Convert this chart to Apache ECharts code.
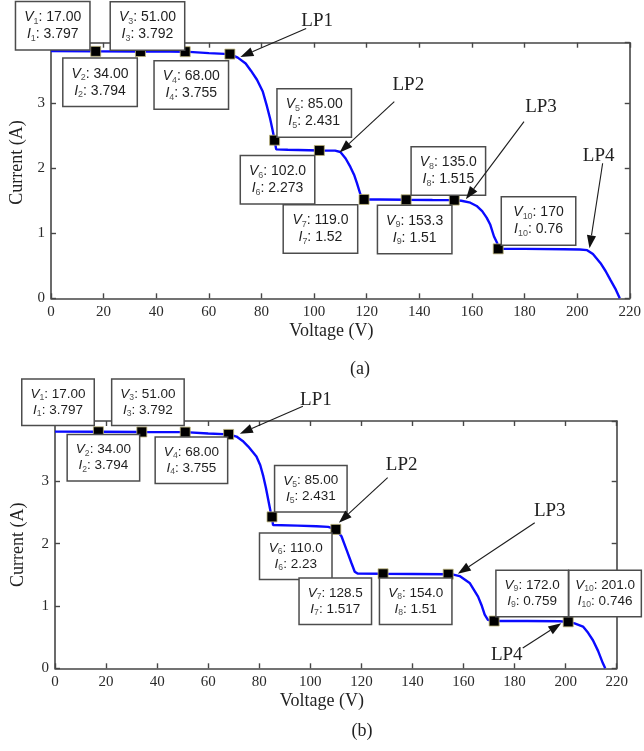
<!DOCTYPE html>
<html>
<head>
<meta charset="utf-8">
<script src="https://cdn.jsdelivr.net/npm/echarts@6/dist/echarts.min.js"></script>
<style>
  html, body { margin: 0; padding: 0; background: #fff; }
  #chart { width: 644px; height: 751px; }
</style>
</head>
<body>
<div id="chart"></div>
<script>
// ---- Panel (a): traced I–V curve of the PV string ----
const voltsA = [0, 17, 34, 45, 51, 60, 68, 71, 74, 76, 78.3, 80.5, 82.1, 83.3, 84.2,
  85, 85.6, 90, 102, 108, 110, 112, 113.8, 115.2, 116.3, 117.6, 119, 125, 135, 145,
  153.3, 156, 159.4, 161.8, 163.9, 165.6, 167, 168.4, 169.6, 170, 180, 195, 201, 203.8,
  206, 208.9, 210.8, 212.7, 214.5, 216.2];
const ampsA = [3.800, 3.797, 3.794, 3.794, 3.792, 3.770, 3.755, 3.70, 3.61, 3.50, 3.36, 3.18, 2.95, 2.76, 2.59,
  2.431, 2.290, 2.285, 2.273, 2.270, 2.250, 2.150, 2.020, 1.900, 1.770, 1.600, 1.520, 1.520, 1.515, 1.512,
  1.510, 1.500, 1.470, 1.420, 1.340, 1.240, 1.130, 0.950, 0.850, 0.760, 0.760, 0.755, 0.750, 0.740,
  0.680, 0.540, 0.420, 0.280, 0.150, 0.000];

// Data-tip readouts, panel (a)
const tipVA = ['17.00', '34.00', '51.00', '68.00', '85.00', '102.0', '119.0', '135.0', '153.3', '170'];
const tipIA = ['3.797', '3.794', '3.792', '3.755', '2.431', '2.273', '1.52', '1.515', '1.51', '0.76'];

// ---- Panel (b) ----
const voltsB = [0, 17, 34, 51, 60, 68, 71.1, 73.5, 75.7, 78.9, 80.4, 81.6, 82.6, 83.5, 84.4,
  85, 85.4, 95, 102.4, 107, 110, 112.2, 114.2, 116.1, 117.4, 118.5, 128.5, 140, 154, 156,
  158.5, 162.4, 165.7, 167.2, 168.3, 169.5, 172, 185, 197.6, 201, 203.5, 206.8, 208.8,
  210.7, 212.7, 214.6, 215.5];
const ampsB = [3.800, 3.797, 3.794, 3.792, 3.770, 3.755, 3.72, 3.65, 3.56, 3.40, 3.26, 3.08, 2.90, 2.71, 2.52,
  2.431, 2.300, 2.290, 2.280, 2.270, 2.230, 2.120, 1.900, 1.690, 1.550, 1.520, 1.517, 1.515, 1.510, 1.505,
  1.480, 1.370, 1.150, 1.000, 0.860, 0.780, 0.759, 0.760, 0.755, 0.746, 0.720, 0.670, 0.570,
  0.450, 0.280, 0.080, 0.000];

const tipVB = ['17.00', '34.00', '51.00', '68.00', '85.00', '110.0', '128.5', '154.0', '172.0', '201.0'];
const tipIB = ['3.797', '3.794', '3.792', '3.755', '2.431', '2.23', '1.517', '1.51', '0.759', '0.746'];

// Local peaks called out with arrows: tip and tail in (V, A)
const lpNames = ['LP1', 'LP2', 'LP3', 'LP4'];
const lpTipA = [[72, 3.71], [109.7, 2.243], [157.7, 1.523], [204.7, 0.769]];
const lpTailA = [[97, 4.15], [130.5, 3.025], [179.8, 2.717], [209.7, 2.077]];
const lpTipB = [[72.4, 3.767], [111.2, 2.336], [157.8, 1.516], [198.3, 0.723]];
const lpTailB = [[97.1, 4.206], [130.3, 3.06], [187.9, 2.336], [183.2, 0.326]];

// Axis ticks
const xTicks = [0, 20, 40, 60, 80, 100, 120, 140, 160, 180, 200, 220];
const yTicks = [0, 1, 2, 3];

// ---- layout / styling ----
const SERIF = '"Liberation Serif","Times New Roman",serif';
const SANS = '"Liberation Sans",Arial,sans-serif';
const AXIS_COLOR = '#464646';
const CURVE_COLOR = '#0a0aff';

// pixel offsets of each data-tip box centre from its marker
const tipOffsetA = [[-43, -25.5], [-40.4, 30.8], [-37.7, -25.8], [-38.6, 30.8], [39.6, -27.3],
  [-41.8, 29.4], [-43.6, 29.5], [42.2, -28.8], [-39.6, 29.4], [40.3, -27.9]];
const tipOffsetB = [[-40.4, -29.6], [-38.4, 25.7], [-37.3, -29.9], [-37.2, 25.8], [38.8, -28.1],
  [-40.1, 26.9], [-47.8, 27.5], [-32.5, 27.1], [38, -27.6], [36.9, -28.4]];
// pixel offsets of the LP captions from the arrow tails
const lpTextOffA = [[11, -7], [14, -17], [17, -15], [-4, -7]];
const lpTextOffB = [[13, -6], [14, -13], [15, -12], [-16, 7]];

const xStep = xTicks[1] - xTicks[0];
const xMin = xTicks[0], xMax = xTicks[xTicks.length - 1];

function zip(a, b) { return a.map((v, k) => [v, b[k]]); }

function xAxesFor(grid, nameGap, namePad) {
  const line = { show: true, onZero: false, lineStyle: { color: AXIS_COLOR, width: 1.6 } };
  const tick = { show: true, inside: true, length: 5, lineStyle: { color: AXIS_COLOR, width: 1.4 } };
  return [
    {
      type: 'value', gridIndex: grid, position: 'bottom', min: xMin, max: xMax, interval: xStep,
      name: 'Voltage (V)', nameLocation: 'middle', nameGap: nameGap,
      nameTextStyle: { fontFamily: SERIF, fontSize: 18, color: '#222', padding: namePad },
      axisLine: line, axisTick: tick, splitLine: { show: false },
      axisLabel: { fontFamily: SERIF, fontSize: 15, color: '#2a2a2a', margin: 6 }
    },
    {
      type: 'value', gridIndex: grid, position: 'top', min: xMin, max: xMax, interval: xStep,
      axisLine: line, axisTick: tick, splitLine: { show: false }, axisLabel: { show: false }
    }
  ];
}

function yAxesFor(grid, yMax, nameGap, namePad) {
  const line = { show: true, onZero: false, lineStyle: { color: AXIS_COLOR, width: 1.6 } };
  const tick = { show: true, inside: true, length: 5, lineStyle: { color: AXIS_COLOR, width: 1.4 } };
  return [
    {
      type: 'value', gridIndex: grid, position: 'left', min: yTicks[0], max: yMax, interval: yTicks[1] - yTicks[0],
      name: 'Current (A)', nameLocation: 'middle', nameGap: nameGap,
      nameTextStyle: { fontFamily: SERIF, fontSize: 18, color: '#222', padding: namePad },
      axisLine: line, axisTick: tick, splitLine: { show: false },
      axisLabel: {
        fontFamily: SERIF, fontSize: 15, color: '#2a2a2a', margin: 6,
        formatter: v => (yTicks.indexOf(v) >= 0 ? String(v) : '')
      }
    },
    {
      type: 'value', gridIndex: grid, position: 'right', min: yTicks[0], max: yMax, interval: yTicks[1] - yTicks[0],
      axisLine: line, axisTick: tick, splitLine: { show: false }, axisLabel: { show: false }
    }
  ];
}

function curveSeries(axisIdx, volts, amps) {
  return {
    type: 'line', xAxisIndex: axisIdx, yAxisIndex: axisIdx, data: zip(volts, amps),
    showSymbol: false, smooth: false, z: 2, silent: true,
    lineStyle: { color: CURVE_COLOR, width: 2.4 }
  };
}

function tipSeries(axisIdx, tipV, tipI, offsets, fs, lh, boxW) {
  const base = { fontFamily: SANS, fontSize: fs, color: '#1e1e1e', lineHeight: lh };
  return {
    type: 'scatter', xAxisIndex: axisIdx, yAxisIndex: axisIdx, z: 4, silent: true,
    symbol: 'rect', symbolSize: 10,
    itemStyle: { color: '#000', borderColor: '#bdb47a', borderWidth: 0.8, opacity: 1 },
    data: tipV.map((v, k) => ({
      value: [Number(v), Number(tipI[k])],
      label: { offset: offsets[k] }
    })),
    label: {
      show: true, position: 'inside', align: 'center', verticalAlign: 'middle',
      width: boxW, padding: [6.5, 7, 6.5, 7],
      backgroundColor: '#fff', borderColor: '#4c4c4c', borderWidth: 1.5,
      formatter: p => {
        const n = p.dataIndex + 1;
        return '{it|V}{sub|' + n + '}{tx|: ' + tipV[p.dataIndex] + '}\n' +
               '{it|I}{sub|' + n + '}{tx|: ' + tipI[p.dataIndex] + '}';
      },
      rich: {
        it: Object.assign({}, base, { fontStyle: 'italic' }),
        tx: Object.assign({}, base),
        sub: { fontFamily: SANS, fontSize: fs * 0.64, color: '#505050', lineHeight: 9, verticalAlign: 'bottom' }
      }
    }
  };
}

function arrowSeries(axisIdx, tips, tails, textOffs) {
  return {
    type: 'custom', xAxisIndex: axisIdx, yAxisIndex: axisIdx, clip: false, silent: true, z: 6,
    data: tips.map((t, k) => [t[0], t[1], tails[k][0], tails[k][1]]),
    encode: { x: [0, 2], y: [1, 3] },
    renderItem: function (params, api) {
      const tip = api.coord([api.value(0), api.value(1)]);
      const tail = api.coord([api.value(2), api.value(3)]);
      const dx = tip[0] - tail[0], dy = tip[1] - tail[1];
      const len = Math.hypot(dx, dy);
      const ux = dx / len, uy = dy / len;
      const headLen = 13, headHalf = 4.6;
      const bx = tip[0] - ux * headLen, by = tip[1] - uy * headLen;
      const off = textOffs[params.dataIndex];
      return {
        type: 'group',
        children: [
          { type: 'line', shape: { x1: tail[0], y1: tail[1], x2: bx, y2: by },
            style: { stroke: '#1c1c1c', lineWidth: 1.1 } },
          { type: 'polygon',
            shape: { points: [tip, [bx - uy * headHalf, by + ux * headHalf], [bx + uy * headHalf, by - ux * headHalf]] },
            style: { fill: '#111' } },
          { type: 'text', x: tail[0] + off[0], y: tail[1] + off[1],
            style: { text: lpNames[params.dataIndex], fontFamily: SERIF, fontSize: 19, fill: '#222',
                     align: 'center', verticalAlign: 'middle' } }
        ]
      };
    }
  };
}

const chart = echarts.init(document.getElementById('chart'), null, { renderer: 'canvas' });

chart.setOption({
  backgroundColor: '#fff',
  animation: false,
  tooltip: { show: false },
  grid: [
    { left: 50.7, top: 42.7, width: 580.3, height: 255.6 },
    { left: 55, top: 421, width: 561.7, height: 247.3 }
  ],
  xAxis: [].concat(xAxesFor(0, 24, [0, 18, 0, 0]), xAxesFor(1, 24, [0, 28, 0, 0])),
  yAxis: [].concat(yAxesFor(0, 3.93, 25, [0, 0, 0, 16]), yAxesFor(1, 3.97, 28, [0, 0, 0, 0])),
  graphic: [
    { type: 'text', x: 360, y: 369, style: { text: '(a)', fontFamily: SERIF, fontSize: 18, fill: '#222', align: 'center', verticalAlign: 'middle' } },
    { type: 'text', x: 362, y: 731, style: { text: '(b)', fontFamily: SERIF, fontSize: 18, fill: '#222', align: 'center', verticalAlign: 'middle' } }
  ],
  series: [
    curveSeries(0, voltsA, ampsA),
    tipSeries(0, tipVA, tipIA, tipOffsetA, 14, 17, 59),
    arrowSeries(0, lpTipA, lpTailA, lpTextOffA),
    // panel (b) uses axis pair 2/3 -> series on xAxisIndex 2, yAxisIndex 2
    Object.assign(curveSeries(0, voltsB, ampsB), { xAxisIndex: 2, yAxisIndex: 2 }),
    Object.assign(tipSeries(0, tipVB, tipIB, tipOffsetB, 13.5, 16, 57), { xAxisIndex: 2, yAxisIndex: 2 }),
    Object.assign(arrowSeries(0, lpTipB, lpTailB, lpTextOffB), { xAxisIndex: 2, yAxisIndex: 2 })
  ]
});
</script>
</body>
</html>
